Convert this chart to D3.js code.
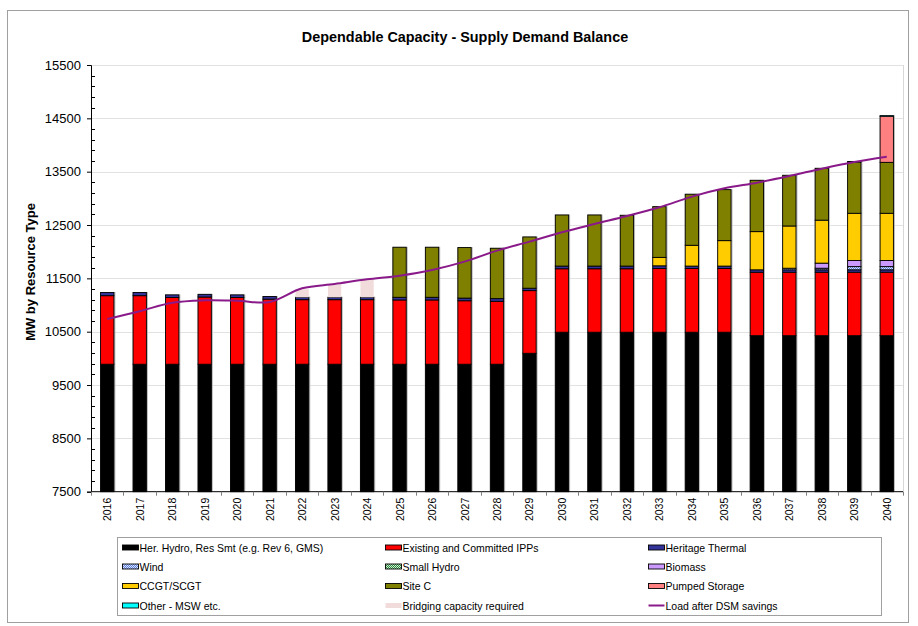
<!DOCTYPE html>
<html>
<head>
<meta charset="utf-8">
<script src="https://cdn.jsdelivr.net/npm/d3@7"></script>
<style>
  html, body { margin: 0; padding: 0; background: #fff; }
  svg { display: block; font-family: "Liberation Sans", Arial, sans-serif; }
</style>
</head>
<body>
<svg id="chart" width="918" height="626"></svg>
<script>
// ---------------- data ----------------
const years = ["2016","2017","2018","2019","2020","2021","2022","2023","2024","2025","2026","2027","2028","2029","2030","2031","2032","2033","2034","2035","2036","2037","2038","2039","2040"];
const yTicks = [7500, 8500, 9500, 10500, 11500, 12500, 13500, 14500, 15500];

const herHydro   = [9890,9890,9890,9890,9890,9890,9890,9890,9890,9890,9890,9890,9890,10095,10490,10490,10490,10490,10490,10490,10425,10425,10425,10425,10425];
const ipps       = [1285,1285,1250,1260,1250,1220,1210,1210,1210,1205,1205,1190,1180,1175,1190,1190,1190,1195,1195,1195,1190,1190,1190,1190,1190];
const thermal    = [60,60,50,50,50,50,45,45,45,50,50,50,50,45,50,50,50,50,45,45,45,45,45,45,45];
const wind       = [0,0,0,0,0,0,0,0,0,0,0,0,0,0,0,0,0,0,0,0,0,30,30,60,60];
const smallHydro = [0,0,0,0,0,0,0,0,0,0,0,0,0,0,0,0,0,0,0,0,0,0,0,0,0];
const biomass    = [0,0,0,0,0,0,0,0,0,0,0,0,0,0,0,0,0,0,0,0,0,0,95,115,115];
const ccgt       = [0,0,0,0,0,0,0,0,0,0,0,0,0,0,0,0,0,158,390,477,716,792,806,885,885];
const siteC      = [0,0,0,0,0,0,0,0,0,938,938,947,944,961,958,958,952,951,957,956,962,950,972,961,955];
const pumped     = [0,0,0,0,0,0,0,0,0,0,0,0,0,0,0,0,0,0,0,0,0,0,0,0,865];
const otherMSW   = [0,0,0,0,0,0,0,0,0,0,0,0,0,0,0,0,0,0,0,0,0,0,0,10,10];
const bridging   = [0,0,0,0,0,0,150,240,330,0,0,0,0,0,0,0,0,0,0,0,0,0,0,0,0];
const loadDSM    = [10738,10884,11044,11088,11081,11057,11313,11394,11481,11550,11657,11813,12019,12188,12363,12519,12669,12832,13032,13188,13294,13419,13556,13681,13781];

const seriesNames = ["Her. Hydro, Res Smt (e.g. Rev 6, GMS)","Existing and Committed IPPs","Heritage Thermal","Wind","Small Hydro","Biomass","CCGT/SCGT","Site C","Pumped Storage","Other - MSW etc.","Bridging capacity required","Load after DSM savings"];
const seriesKeys = ["herHydro","ipps","thermal","wind","smallHydro","biomass","ccgt","siteC","pumped","otherMSW","bridging"];
const seriesData = [herHydro, ipps, thermal, wind, smallHydro, biomass, ccgt, siteC, pumped, otherMSW, bridging];

// ---------------- styles ----------------
const fills = {
  herHydro: "#000000", ipps: "#FF0000", thermal: "#333399", wind: "url(#pWind)",
  smallHydro: "url(#pSmall)", biomass: "#CC99FF", ccgt: "#FFCC00", siteC: "#808000",
  pumped: "#FF8080", otherMSW: "#00FFFF", bridging: "#F2DCDB"
};
const loadColor = "#8A1A8A";

const svg = d3.select("#chart");
const defs = svg.append("defs");
const pw = defs.append("pattern").attr("id","pWind").attr("width",2).attr("height",2).attr("patternUnits","userSpaceOnUse");
pw.append("rect").attr("width",2).attr("height",2).attr("fill","#5B7FE0");
pw.append("rect").attr("width",1).attr("height",1).attr("fill","#DDE6FF");
pw.append("rect").attr("x",1).attr("y",1).attr("width",1).attr("height",1).attr("fill","#DDE6FF");
const ps = defs.append("pattern").attr("id","pSmall").attr("width",2).attr("height",2).attr("patternUnits","userSpaceOnUse");
ps.append("rect").attr("width",2).attr("height",2).attr("fill","#2E8B3E");
ps.append("rect").attr("width",1).attr("height",1).attr("fill","#CFEFD4");
ps.append("rect").attr("x",1).attr("y",1).attr("width",1).attr("height",1).attr("fill","#CFEFD4");

// outer frame
svg.append("rect").attr("x",7.5).attr("y",10.5).attr("width",901).attr("height",612)
  .attr("fill","none").attr("stroke","#A0A0A0").attr("stroke-width",1);

// ---------------- scales ----------------
const plot = {left: 91, right: 903, top: 65, bottom: 491.7};
const x = d3.scaleBand().domain(years).range([plot.left, plot.right]);
const y = d3.scaleLinear().domain([7500, 15500]).range([plot.bottom, plot.top]);
const barW = x.bandwidth() * 0.41;

const g = svg.append("g");
g.selectAll("line.grid").data(yTicks.filter(d => d > 7500)).join("line")
  .attr("x1", plot.left).attr("x2", plot.right)
  .attr("y1", d => Math.round(y(d)) + 0.5).attr("y2", d => Math.round(y(d)) + 0.5)
  .attr("stroke", "#E2E2E2").attr("stroke-width", 1);
g.append("line").attr("x1", plot.right + 0.5).attr("x2", plot.right + 0.5)
  .attr("y1", plot.top).attr("y2", plot.bottom).attr("stroke", "#D8D8D8");

// ---------------- stacks ----------------
const rows = years.map((yr, i) => {
  const r = {year: yr};
  seriesKeys.forEach((k, j) => r[k] = seriesData[j][i]);
  return r;
});
const stacked = d3.stack().keys(seriesKeys)(rows);

const barsG = svg.append("g");
const supplyKeys = seriesKeys.filter(k => k !== "bridging");
barsG.selectAll("rect.shadow").data(rows).join("rect")
  .attr("x", d => x(d.year) + (x.bandwidth() - barW) / 2 - 0.5)
  .attr("width", barW + 2)
  .attr("y", (d, i) => y(stacked[supplyKeys.length - 1][i][1]) - 0.5)
  .attr("height", (d, i) => plot.bottom - y(stacked[supplyKeys.length - 1][i][1]) + 0.5)
  .attr("fill", "#B8B8B8");

stacked.forEach(s => {
  const key = s.key;
  barsG.append("g").selectAll("rect").data(s.filter(d => d[1] - d[0] > 0)).join("rect")
    .attr("x", d => x(d.data.year) + (x.bandwidth() - barW) / 2)
    .attr("width", barW)
    .attr("y", d => y(Math.min(d[1], 15500)))
    .attr("height", d => Math.max(0, y(Math.max(d[0], 7500)) - y(d[1])))
    .attr("fill", fills[key])
    .attr("stroke", key === "bridging" ? "none" : "#000")
    .attr("stroke-width", key === "bridging" ? 0 : 0.9);
});

// ---------------- load line ----------------
const line = d3.line()
  .x((d, i) => x(years[i]) + x.bandwidth() / 2)
  .y(d => y(d))
  .curve(d3.curveCatmullRom.alpha(0.5));
svg.append("path").datum(loadDSM).attr("d", line)
  .attr("fill", "none").attr("stroke", loadColor).attr("stroke-width", 2);

// ---------------- axes ----------------
const yAxis = d3.axisLeft(y).tickValues(yTicks).tickSize(4).tickPadding(6).tickFormat(d3.format("d"));
const ya = svg.append("g").attr("transform", `translate(${plot.left},0)`).call(yAxis);
ya.select(".domain").attr("stroke", "#000");
ya.selectAll("text").attr("font-size", 13).attr("fill", "#000").attr("font-family", "Liberation Sans, Arial, sans-serif");
const minor = d3.range(7500, 15501, 200).filter(v => (v - 7500) % 1000 !== 0);
svg.append("g").selectAll("line").data(minor).join("line")
  .attr("x1", plot.left).attr("x2", plot.left + 4)
  .attr("y1", d => Math.round(y(d)) + 0.5).attr("y2", d => Math.round(y(d)) + 0.5)
  .attr("stroke", "#000");

const xa = svg.append("g").attr("transform", `translate(0,${plot.bottom})`);
xa.append("line").attr("x1", plot.left).attr("x2", plot.right).attr("y1", 0).attr("y2", 0).attr("stroke", "#000");
const bounds = years.map(yr => x(yr)).concat([plot.right]);
xa.selectAll("line.tk").data(bounds).join("line").attr("class","tk")
  .attr("x1", d => Math.round(d) + 0.5).attr("x2", d => Math.round(d) + 0.5)
  .attr("y1", 0).attr("y2", 4).attr("stroke", "#808080");
xa.selectAll("text").data(years).join("text")
  .attr("transform", d => `translate(${x(d) + x.bandwidth() / 2 + 4},${6}) rotate(-90)`)
  .attr("text-anchor", "end").attr("font-size", 10.5).text(d => d);

// ---------------- titles ----------------
svg.append("text").attr("x", 465).attr("y", 42).attr("text-anchor", "middle")
  .attr("font-size", 14.4).attr("font-weight", "bold").text("Dependable Capacity - Supply Demand Balance");
svg.append("text").attr("transform", "translate(35,272) rotate(-90)").attr("text-anchor", "middle")
  .attr("font-size", 13).attr("font-weight", "bold").text("MW by Resource Type");

// ---------------- legend ----------------
const lg = svg.append("g");
lg.append("rect").attr("x", 117.5).attr("y", 537.5).attr("width", 764).attr("height", 78)
  .attr("fill", "#fff").attr("stroke", "#A0A0A0");
const colX = [122.5, 385.5, 648.5];
const rowY = [547.5, 566.5, 586, 605.5];
const legendFills = seriesKeys.map(k => fills[k]);
seriesNames.forEach((name, i) => {
  const cx = colX[i % 3], cy = rowY[Math.floor(i / 3)];
  if (i === 11) {
    lg.append("line").attr("x1", cx).attr("x2", cx + 16).attr("y1", cy).attr("y2", cy)
      .attr("stroke", loadColor).attr("stroke-width", 2);
  } else {
    lg.append("rect").attr("x", cx).attr("y", cy - 2.5).attr("width", 16).attr("height", 5)
      .attr("fill", legendFills[i])
      .attr("stroke", seriesKeys[i] === "bridging" ? "none" : "#000").attr("stroke-width", 0.9);
  }
  lg.append("text").attr("x", cx + 17).attr("y", cy + 4).attr("font-size", 10.5).text(name);
});
</script>
</body>
</html>
